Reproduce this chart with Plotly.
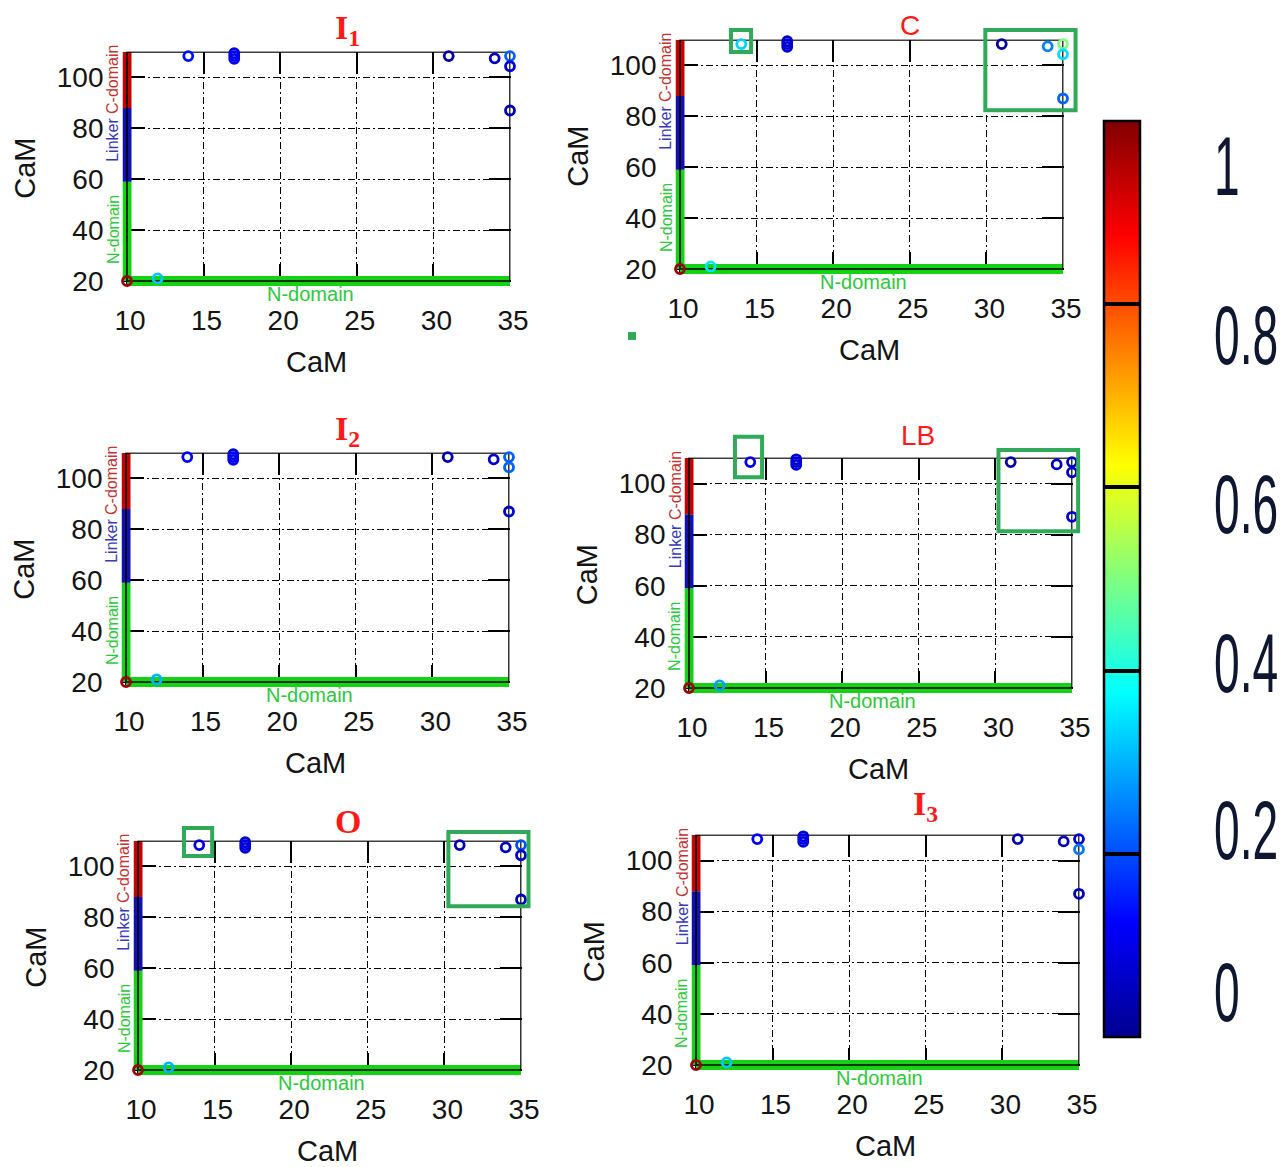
import plotly.graph_objects as go

W, H = 1282, 1167

# ---- contact data (residue i on x, residue j on y, normalised frequency) ----
contact_x = [14.0, 14.0, 17.0, 17.0, 17.0, 31.0, 34.0, 35.0, 35.0, 35.0, 12.0, 10.0]
contact_y = [110.4, 108.4, 109.5, 108.4, 107.3, 108.4, 107.5, 108.4, 104.4, 87.0, 21.0, 20.0]

freq_I1 = [0.12, 0.14, 0.10, 0.10, 0.12, 0.02, 0.05, 0.22, 0.08, 0.04, 0.32, 0.97]
freq_C = [0.04, 0.33, 0.07, 0.07, 0.08, 0.01, 0.25, 0.50, 0.34, 0.22, 0.35, 0.97]
freq_I2 = [0.10, 0.13, 0.09, 0.10, 0.12, 0.03, 0.06, 0.22, 0.22, 0.07, 0.30, 0.97]
freq_LB = [0.07, 0.09, 0.07, 0.08, 0.08, 0.03, 0.06, 0.06, 0.07, 0.07, 0.28, 0.97]
freq_O = [0.07, 0.09, 0.07, 0.08, 0.08, 0.04, 0.06, 0.20, 0.06, 0.05, 0.30, 0.97]
freq_I3 = [0.09, 0.11, 0.08, 0.09, 0.10, 0.04, 0.05, 0.07, 0.24, 0.05, 0.32, 0.97]

panel_titles = ["<b>I<sub>1</sub></b>", "C", "<b>I<sub>2</sub></b>", "LB", "<b>O</b>", "<b>I<sub>3</sub></b>"]
panel_freqs = [freq_I1, freq_C, freq_I2, freq_LB, freq_O, freq_I3]

x_ticks = [10, 15, 20, 25, 30, 35]
y_ticks = [20, 40, 60, 80, 100]

# CaM domain segments along the residue axes
domain_names = ["N-domain", "Linker", "C-domain"]
domain_start = [20, 59, 88]
domain_end = [59, 88, 110]
x_domain_range = [10, 35]

# highlighted regions (panel index, x0, x1, y0, y1)
box_panel = [1, 1, 3, 3, 4, 4]
box_x0 = [13.33, 29.93, 13.0, 30.2, 13.0, 30.26]
box_x1 = [14.64, 35.82, 14.77, 35.4, 14.84, 35.49]
box_y0 = [105.3, 82.4, 102.5, 81.3, 104.1, 84.4]
box_y1 = [113.9, 113.9, 118.3, 113.1, 115.1, 113.5]

colorbar_ticks = [0, 0.2, 0.4, 0.6, 0.8, 1]
colorbar_labels = ["1", "0.8", "0.6", "0.4", "0.2", "0"]

# ---- layout geometry (pixels) ----
# frame of each panel: left (x=10), right (x=35), top (y=110), bottom (y=20)
frames = [
    (127, 510, 52, 281),
    (680, 1063, 40, 269),
    (126, 509, 453, 682),
    (689, 1072, 458, 688),
    (138, 521, 841, 1070),
    (696, 1079, 835, 1065),
]
title_pos = [(347, 30), (910, 26), (347, 431), (918, 435), (348, 821), (925, 806)]
serif = dict(family="Liberation Serif", size=34, color="#ff1a1a")
sans = dict(family="Liberation Sans", size=28, color="#ff1a1a")
title_font = [serif, sans, serif, sans, serif, serif]
PAD_L, PAD_B, PAD_TR = 4.5, 5.0, 0.5

jet = [[0, "#00008f"], [0.125, "#0000ff"], [0.375, "#00ffff"],
       [0.625, "#ffff00"], [0.875, "#ff0000"], [1, "#800000"]]
seg_colors = ["#14d214", "#1010b4", "#c80000"]
label_colors = ["#2ec83c", "#3a3ab8", "#c03434"]

fig = go.Figure()
layout = dict(
    width=W, height=H, autosize=False,
    margin=dict(l=0, r=0, t=0, b=0, autoexpand=False),
    paper_bgcolor="white", plot_bgcolor="white",
    showlegend=False,
    annotations=[], shapes=[],
)

ranges = []
for i, (L, R, T, B) in enumerate(frames):
    pxu = (R - L) / 25.0
    pyu = (B - T) / 90.0
    xr = [10 - PAD_L / pxu, 35 + PAD_TR / pxu]
    yr = [20 - PAD_B / pyu, 110 + PAD_TR / pyu]
    ranges.append((xr, yr))
    n = "" if i == 0 else str(i + 1)
    xa, ya = "x" + n, "y" + n
    common = dict(
        showline=False, zeroline=False, showgrid=True,
        gridcolor="black", gridwidth=1.4, griddash="7px,3px,2px,3px",
        ticks="inside", ticklen=22, tickwidth=1.6, tickcolor="black",
        mirror="ticks", layer="below traces",
        tickfont=dict(family="Liberation Sans", size=28, color="#141414"),
        tickmode="array", fixedrange=True,
    )
    layout["xaxis" + n] = dict(
        common, domain=[(L - PAD_L) / W, (R + PAD_TR) / W], range=xr,
        tickvals=x_ticks, anchor=ya, ticklabelstandoff=15, ticklabelshift=3,
    )
    layout["yaxis" + n] = dict(
        common, domain=[1 - (B + PAD_B) / H, 1 - (T - PAD_TR) / H], range=yr,
        tickvals=y_ticks, anchor=xa, ticklabelstandoff=18,
    )

    # domain bars on the y axis
    for k in range(3):
        fig.add_trace(go.Scatter(
            x=[10, 10], y=[domain_start[k], domain_end[k]], mode="lines",
            line=dict(color=seg_colors[k], width=9), xaxis=xa, yaxis=ya,
            hoverinfo="skip",
        ))
    # N-domain bar on the x axis
    fig.add_trace(go.Scatter(
        x=x_domain_range, y=[20, 20], mode="lines",
        line=dict(color=seg_colors[0], width=10), xaxis=xa, yaxis=ya,
        hoverinfo="skip",
    ))
    # plot frame
    fig.add_trace(go.Scatter(
        x=[10, 35, 35, 10, 10], y=[20, 20, 110, 110, 20], mode="lines",
        line=dict(color="black", width=1.6), xaxis=xa, yaxis=ya,
        hoverinfo="skip",
    ))
    # contacts
    marker = dict(
        symbol="circle-open", size=9, line=dict(width=2.8),
        color=panel_freqs[i], colorscale=jet, cmin=0, cmax=1,
    )
    if i == 0:
        marker.update(showscale=True, colorbar=dict(
            x=1104 / W, xanchor="left", xpad=0,
            y=1 - 1037 / H, yanchor="bottom", ypad=0,
            len=(1037 - 121) / H, lenmode="fraction",
            thickness=36, thicknessmode="pixels",
            outlinewidth=2.5, outlinecolor="black",
            tickmode="array", tickvals=colorbar_ticks,
            ticks="inside", ticklen=36, tickwidth=3.5, tickcolor="black",
            showticklabels=False,
        ))
    fig.add_trace(go.Scatter(
        x=contact_x, y=contact_y, mode="markers", marker=marker,
        xaxis=xa, yaxis=ya, cliponaxis=False, hoverinfo="skip",
    ))

    ann = layout["annotations"]
    # domain labels
    ann.append(dict(x=22, y=20, xref=xa, yref=ya, text="N-domain", showarrow=False,
                    yshift=-13, font=dict(family="Liberation Sans", size=20, color=label_colors[0])))
    for k, yc in enumerate([40, 75.5, 99]):
        ann.append(dict(x=10, y=yc, xref=xa, yref=ya, text=domain_names[k], showarrow=False,
                        xshift=-14, textangle=-90,
                        font=dict(family="Liberation Sans", size=16, color=label_colors[k])))
    # axis titles
    ann.append(dict(x=0.5, y=0, xref=xa + " domain", yref=ya + " domain", text="CaM",
                    showarrow=False, yshift=-76, yanchor="middle",
                    font=dict(family="Liberation Sans", size=29, color="#141414")))
    ann.append(dict(x=0, y=0.5, xref=xa + " domain", yref=ya + " domain", text="CaM",
                    showarrow=False, xshift=-97.5, xanchor="center", textangle=-90,
                    font=dict(family="Liberation Sans", size=29, color="#141414")))
    # panel title
    tx, ty = title_pos[i]
    ann.append(dict(x=tx / W, y=1 - ty / H, xref="paper", yref="paper", text=panel_titles[i],
                    showarrow=False, xanchor="center", yanchor="middle", font=title_font[i]))

# highlighted regions
for j, p in enumerate(box_panel):
    xr, yr = ranges[p]
    n = "" if p == 0 else str(p + 1)
    fx = lambda v: (v - xr[0]) / (xr[1] - xr[0])
    fy = lambda v: (v - yr[0]) / (yr[1] - yr[0])
    layout["shapes"].append(dict(
        type="rect", xref="x" + n + " domain", yref="y" + n + " domain",
        x0=fx(box_x0[j]), x1=fx(box_x1[j]), y0=fy(box_y0[j]), y1=fy(box_y1[j]),
        line=dict(color="#30aa58", width=4), fillcolor="rgba(0,0,0,0)", layer="above",
    ))
# small green square under the C panel
layout["shapes"].append(dict(type="rect", xref="paper", yref="paper",
                             x0=628 / W, x1=636 / W, y0=1 - 340 / H, y1=1 - 332 / H,
                             line=dict(width=0), fillcolor="#30aa58"))

# colour bar labels (tall, narrow glyphs)
first_cb_label = len(layout["annotations"])
for k, lab in enumerate(colorbar_labels):
    yc = [166, 335, 504, 663, 830, 992][k]
    layout["annotations"].append(dict(
        x=1212 / W, y=1 - yc / H, xref="paper", yref="paper", text=lab, showarrow=False,
        xanchor="left", yanchor="middle",
        font=dict(family="Liberation Sans", size=84, color="#0e1630"),
    ))

fig.update_layout(**layout)

squeeze_js = """
(function () {
  var gd = document.getElementById('{plot_id}');
  var FIRST = %d, SX = 0.55;
  function squeeze() {
    gd.querySelectorAll('g.annotation').forEach(function (g) {
      var idx = parseInt(g.getAttribute('data-index'), 10);
      if (idx < FIRST) return;
      var t = g.querySelector('text.annotation-text');
      if (!t || t.getAttribute('data-squeezed')) return;
      var bb = t.getBBox();
      var cx = bb.x, cy = bb.y + bb.height / 2;
      t.setAttribute('transform', 'translate(' + cx + ',' + cy + ') scale(' + SX + ',1) translate(' + (-cx) + ',' + (-cy) + ')');
      t.setAttribute('data-squeezed', '1');
    });
  }
  squeeze();
  gd.on('plotly_afterplot', squeeze);
})();
""" % first_cb_label

fig.write_html("out.html", post_script=squeeze_js)
